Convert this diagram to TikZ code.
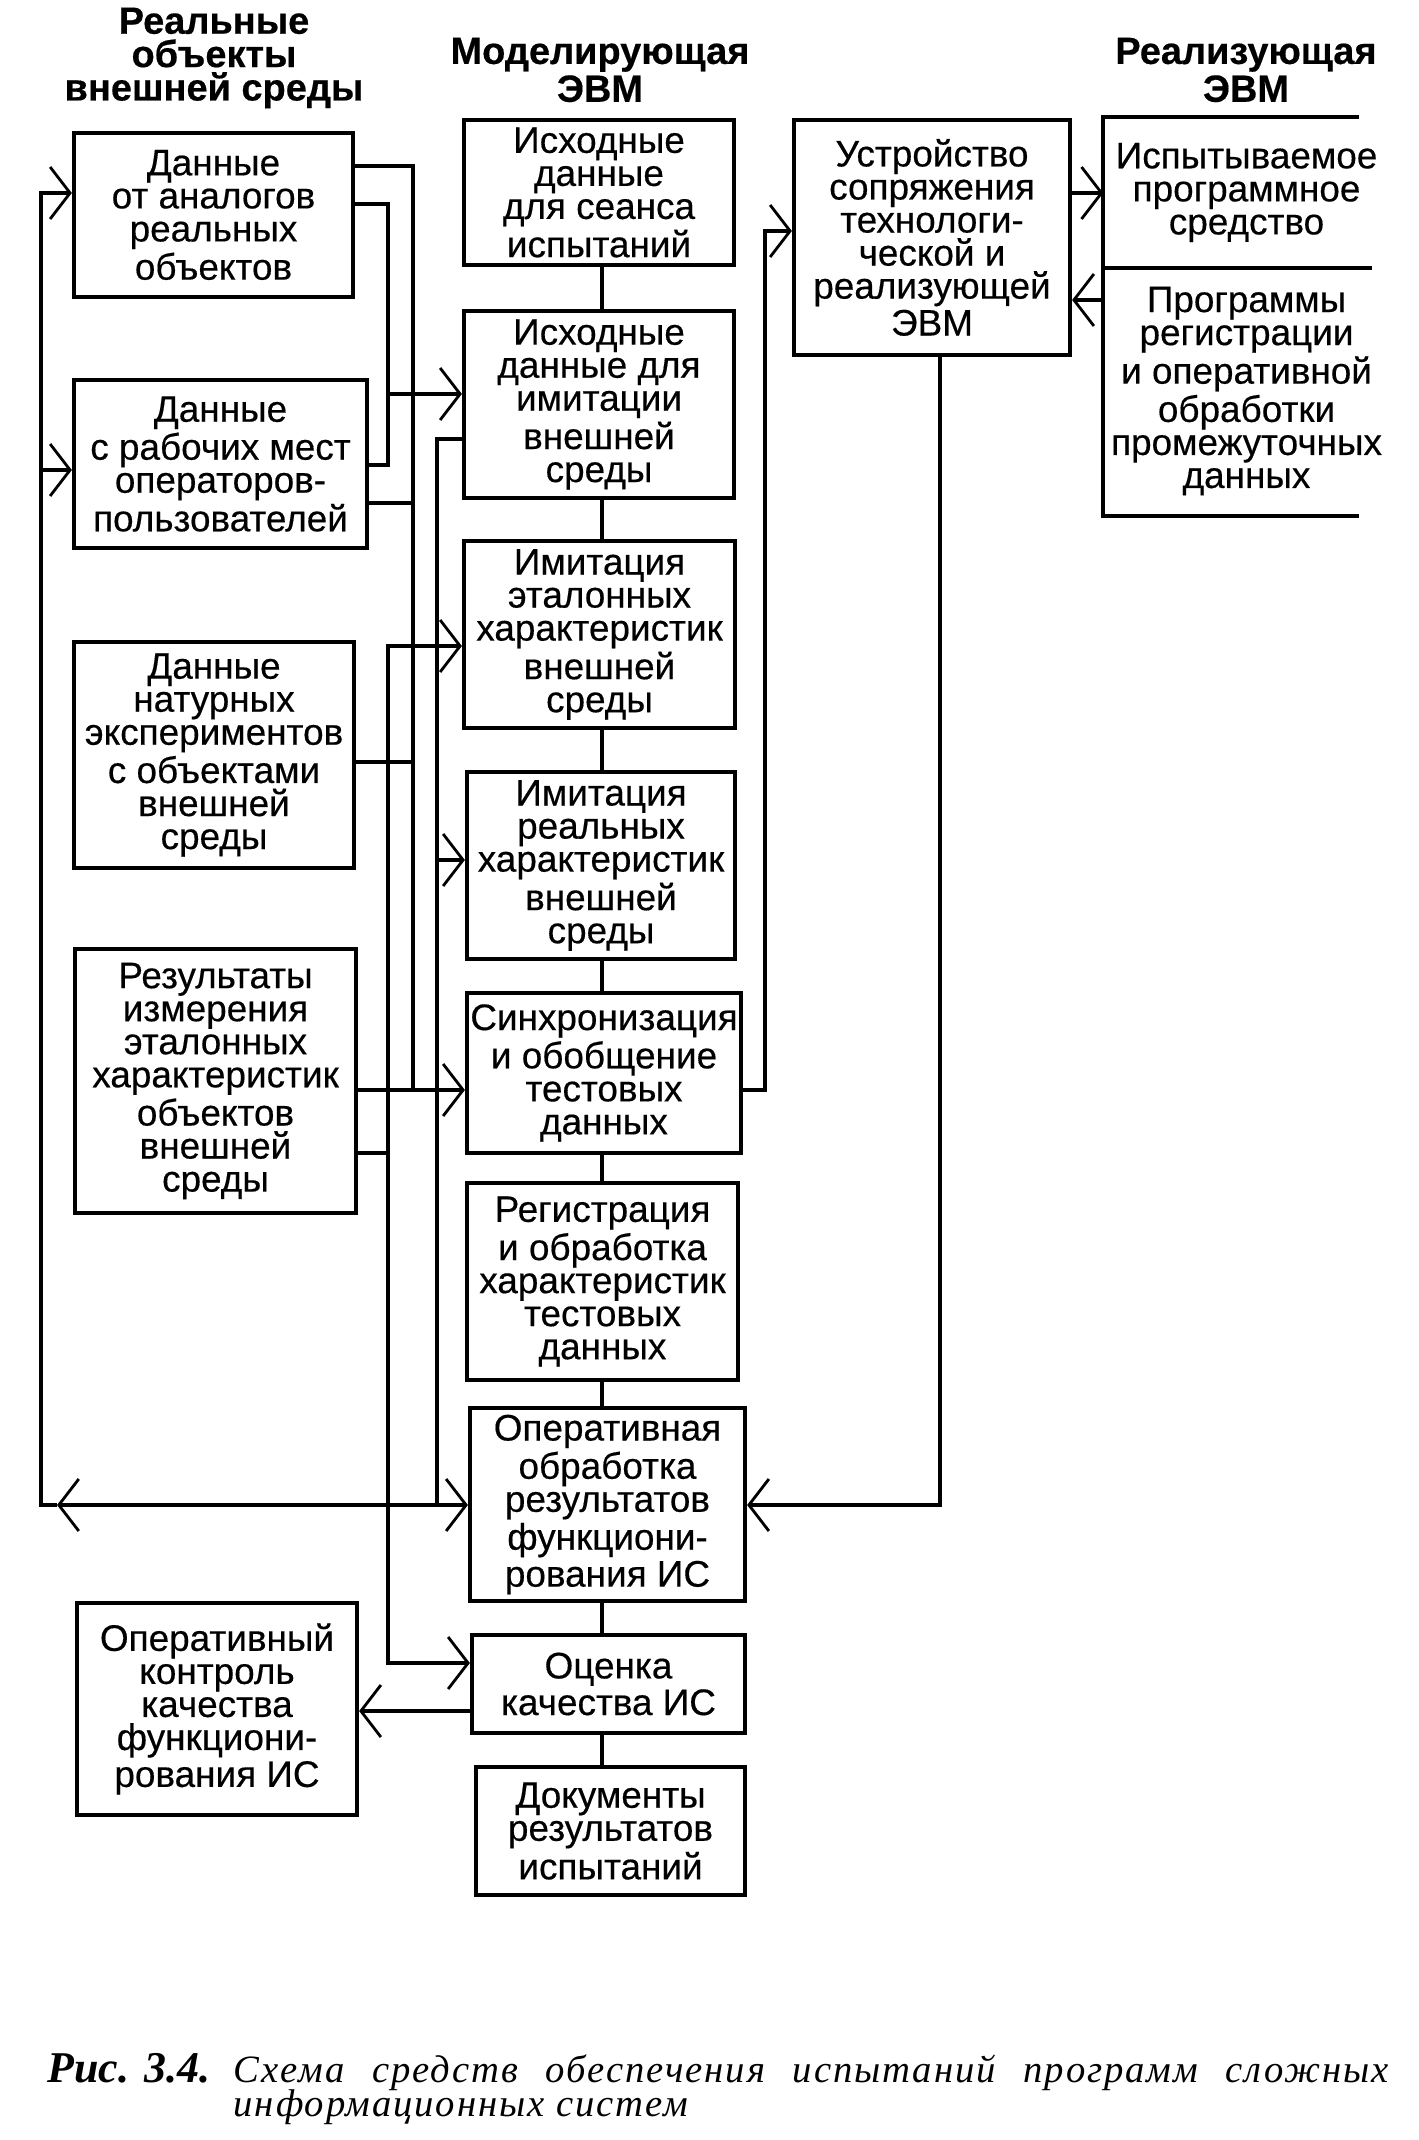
\documentclass[tikz,border=0pt]{standalone}
\usepackage{fontspec}
\setmainfont{Liberation Sans}[FakeBold=0.4]
\newfontfamily\capfont[LetterSpace=5]{Liberation Serif}
\newfontfamily\figfont{Liberation Serif}
\usetikzlibrary{arrows.meta}

\tikzset{
  blk/.style={draw, line width=1.2pt, align=center, inner sep=0pt, font=\fontsize{10.5}{9.4}\selectfont},
  txt/.style={align=center, inner sep=0pt, font=\fontsize{10.5}{9.4}\selectfont},
  hdr/.style={align=center, inner sep=0pt, font=\bfseries\fontsize{10.8}{8.6}\selectfont},
  wire/.style={line width=1.2pt},
}

\begin{document}
\begin{tikzpicture}[>={Straight Barb[length=2mm,width=5.2mm,line width=0.8pt]}]
    \useasboundingbox (0,0) rectangle (14.18,-21.40);

    \node[hdr, font=\bfseries\fontsize{10.8}{9.5}\selectfont] (hreal) at (2.14,-0.58) {Реальные\\объекты\\внешней среды};
    \node[hdr] (hmod) at (6.00,-0.70) {Моделирующая\\ЭВМ};
    \node[hdr] (hrea) at (12.46,-0.70) {Реализующая\\ЭВМ};

    \node[blk, minimum width=2.79cm, minimum height=1.64cm] (l1) at (2.135,-2.15) {Данные\\от аналогов\\реальных\\объектов};
    \node[blk, minimum width=2.93cm, minimum height=1.68cm] (l2) at (2.205,-4.64) {Данные\\с рабочих мест\\операторов-\\пользователей};
    \node[blk, minimum width=2.80cm, minimum height=2.26cm] (l3) at (2.14,-7.55) {Данные\\натурных\\экспериментов\\с объектами\\внешней\\среды};
    \node[blk, minimum width=2.81cm, minimum height=2.64cm] (l4) at (2.155,-10.81) {Результаты\\измерения\\эталонных\\характеристик\\объектов\\внешней\\среды};
    \node[blk, minimum width=2.80cm, minimum height=2.12cm] (l5) at (2.17,-17.09) {Оперативный\\контроль\\качества\\функциони-\\рования ИС};

    \node[blk, minimum width=2.70cm, minimum height=1.45cm] (m1) at (5.99,-1.925) {Исходные\\данные\\для сеанса\\испытаний};
    \node[blk, minimum width=2.70cm, minimum height=1.87cm] (m2) at (5.99,-4.045) {Исходные\\данные для\\имитации\\внешней\\среды};
    \node[blk, minimum width=2.71cm, minimum height=1.87cm] (m3) at (5.995,-6.345) {Имитация\\эталонных\\характеристик\\внешней\\среды};
    \node[blk, minimum width=2.68cm, minimum height=1.87cm] (m4) at (6.01,-8.655) {Имитация\\реальных\\характеристик\\внешней\\среды};
    \node[blk, minimum width=2.74cm, minimum height=1.60cm] (m5) at (6.04,-10.73) {Синхронизация\\и обобщение\\тестовых\\данных};
    \node[blk, minimum width=2.71cm, minimum height=1.97cm] (m6) at (6.025,-12.815) {Регистрация\\и обработка\\характеристик\\тестовых\\данных};
    \node[blk, minimum width=2.75cm, minimum height=1.93cm] (m7) at (6.075,-15.045) {Оперативная\\обработка\\результатов\\функциони-\\рования ИС};
    \node[blk, minimum width=2.73cm, minimum height=0.98cm] (m8) at (6.085,-16.84) {Оценка\\качества ИС};
    \node[blk, minimum width=2.69cm, minimum height=1.28cm] (m9) at (6.105,-18.31) {Документы\\результатов\\испытаний};

    \node[blk, minimum width=2.76cm, minimum height=2.35cm] (r1) at (9.32,-2.375) {Устройство\\сопряжения\\технологи-\\ческой и\\реализующей\\ЭВМ};
    \node[txt, minimum width=2.85cm, minimum height=1.49cm] (r2) at (12.465,-1.925) {Испытываемое\\программное\\средство};
    \node[txt, minimum width=2.85cm, minimum height=2.48cm] (r3) at (12.465,-3.91) {Программы\\регистрации\\и оперативной\\обработки\\промежуточных\\данных};
    \draw[wire] (r2.north west) ++(2.56,0) -- (r2.north west) -- (r3.south west) -- ++(2.56,0);
    \draw[wire] (r2.south west) -- ++(2.69,0);

    \coordinate (aTop) at (0.41,-1.93);
    \coordinate (aBot) at (0.41,-15.05);
    \coordinate (aTip) at (0.57,-15.05);
    \coordinate (dBot) at (4.37,-15.05);

    \draw[wire,->] (dBot) -- (aTip);
    \draw[wire,->] (dBot) -- (m7.west |- dBot);
    \draw[wire,->] (aTip) -- (aBot) -- (aTop) -- (l1.west |- aTop);
    \draw[wire,->] (0.41,-4.70) -- (l2.west |- 0,-4.70);

    \draw[wire] (m2.west |- 0,-4.39) -| (dBot);
    \draw[wire,->] (4.37,-8.60) -- (m4.west |- 0,-8.60);

    \draw[wire] (l1.east |- 0,-2.04) -| (3.88,-4.65) -- (l2.east |- 0,-4.65);
    \draw[wire,->] (3.88,-3.94) -- (m2.west |- 0,-3.94);

    \draw[wire] (l1.east |- 0,-1.66) -| (4.13,-10.90);
    \draw[wire] (l2.east |- 0,-5.03) -- (4.13,-5.03);
    \draw[wire] (l3.east |- 0,-7.62) -- (4.13,-7.62);
    \draw[wire,->] (l4.east |- 0,-10.90) -- (m5.west |- 0,-10.90);

    \draw[wire,<->] (m3.west |- 0,-6.46) -| (3.88,-16.63) -- (m8.west |- 0,-16.63);
    \draw[wire] (l4.east |- 0,-11.53) -- (3.88,-11.53);
    \draw[wire,->] (m8.west |- 0,-17.11) -- (l5.east |- 0,-17.11);

    \draw[wire,->] (m5.east |- 0,-10.90) -| (7.65,-2.31) -- (r1.west |- 0,-2.31);
    \draw[wire,->] (r1.south -| 9.40,0) |- (m7.east |- dBot);
    \draw[wire,->] (r1.east |- 0,-1.93) -- (r2.west |- 0,-1.93);
    \draw[wire,->] (r3.west |- 0,-3.00) -- (r1.east |- 0,-3.00);

    \foreach \a/\b in {m1/m2,m2/m3,m3/m4,m4/m5,m5/m6,m6/m7,m7/m8,m8/m9}
        \draw[wire] (\a.south -| 6.02,0) -- (\b.north -| 6.02,0);

    \node[anchor=base west, inner sep=0pt, font=\figfont\bfseries\itshape\fontsize{12.5}{14}\selectfont] (fig) at (0.47,-20.82) {Рис. 3.4.};
    \node[anchor=base west, inner sep=0pt, font=\capfont\itshape\fontsize{11}{14}\selectfont] (capa) at (2.33,-20.82) {\makebox[11.55cm][s]{Схема средств обеспечения испытаний программ сложных}};
    \node[anchor=base west, inner sep=0pt, font=\capfont\itshape\fontsize{11}{14}\selectfont] (capb) at (2.33,-21.16) {информационных систем};
\end{tikzpicture}
\end{document}
